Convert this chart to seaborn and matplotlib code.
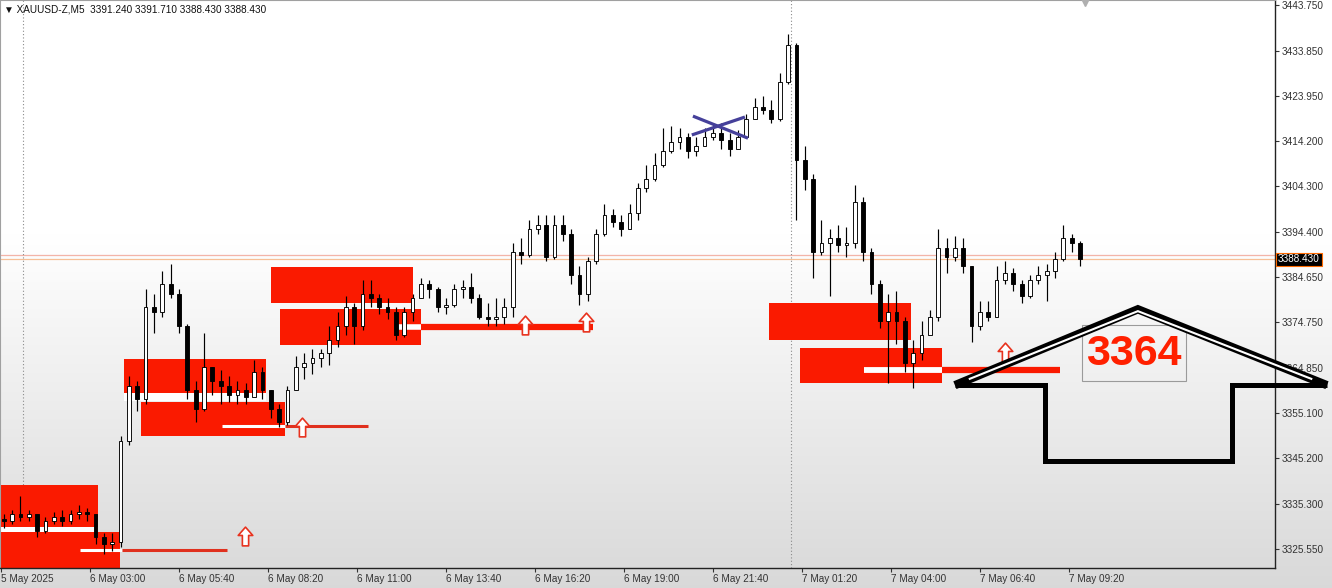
import numpy as np
import matplotlib
matplotlib.use("Agg")
import matplotlib.pyplot as plt
import seaborn as sns
from matplotlib.patches import Rectangle
from matplotlib.path import Path

# ---------------- data (15-minute aggregation of the M5 chart) ----------------
first_open = 3332.0
closes = [3331.5, 3333, 3332.5, 3333, 3329.5, 3331.5, 3332.5, 3331.5, 3333, 3333.5,
          3333, 3328, 3326.5, 3327, 3349, 3361, 3358, 3378, 3377, 3383,
          3381, 3374, 3360, 3356, 3365, 3362, 3361, 3359, 3360, 3358.5,
          3364, 3360, 3356, 3353, 3360, 3365, 3366, 3367, 3368, 3371,
          3374, 3378, 3374, 3381, 3380, 3378, 3377, 3372, 3377, 3380,
          3383, 3382, 3378, 3378.5, 3382, 3382.5, 3380, 3376, 3375.5, 3376,
          3378, 3390, 3389.5, 3395, 3396, 3389, 3396, 3394, 3385, 3381,
          3388, 3394, 3398, 3396.5, 3395, 3398.5, 3404, 3406, 3409, 3412,
          3414, 3415, 3412, 3413, 3415, 3416, 3414.5, 3412.5, 3415, 3419,
          3421.5, 3421, 3419, 3427, 3435, 3410, 3406, 3390, 3392, 3393,
          3391.5, 3392, 3401, 3390, 3383, 3375, 3377, 3375, 3366, 3368,
          3372, 3376, 3391, 3389, 3391, 3387, 3374, 3377, 3376, 3384,
          3385.5, 3383, 3380.5, 3384, 3385, 3386, 3388.5, 3393, 3392, 3388.43]
highs = [3333, 3334, 3337, 3334, 3333, 3332.5, 3333.5, 3334, 3334, 3335,
         3334.5, 3333, 3329, 3329, 3350, 3363, 3362, 3382, 3381, 3386,
         3387.5, 3382, 3374.5, 3362, 3372.5, 3365, 3364.5, 3363, 3362, 3361.5,
         3366.5, 3365, 3360, 3357, 3361, 3367.5, 3368, 3369, 3369, 3374,
         3377, 3380.5, 3379, 3384, 3384, 3381, 3380, 3378, 3378, 3381,
         3384.5, 3384, 3382.5, 3380, 3383, 3384, 3385.5, 3381, 3379, 3380,
         3380, 3392, 3393, 3397, 3398, 3398, 3398, 3398, 3395, 3387,
         3389, 3395, 3400.5, 3399.5, 3398, 3400.5, 3405, 3409, 3411.5, 3417,
         3417.5, 3417, 3416, 3415, 3417, 3418, 3418, 3416, 3416.5, 3420,
         3423.5, 3424, 3423, 3429, 3437.5, 3435.5, 3413, 3407, 3397, 3395,
         3396, 3395.5, 3404.6, 3402, 3391, 3384, 3381, 3381.5, 3376, 3371,
         3375, 3377.5, 3395, 3393, 3393.5, 3393, 3387, 3379.5, 3379.5, 3387,
         3388, 3386.5, 3384, 3385, 3387, 3387.5, 3390, 3396, 3394, 3392.5]
lows = [3330, 3331, 3331.5, 3331.5, 3328, 3329, 3331, 3330.5, 3331, 3332,
        3331.5, 3326.5, 3324.5, 3325, 3326, 3348, 3355.5, 3357, 3372.5, 3376,
        3380, 3372.5, 3358, 3353, 3355.5, 3359, 3357, 3357.5, 3357, 3357,
        3359, 3358, 3354, 3352, 3352.5, 3360, 3362.5, 3363.5, 3365, 3365.5,
        3369.5, 3372, 3370, 3373, 3378, 3376.5, 3375.5, 3371, 3371.5, 3375,
        3380, 3380, 3377, 3376.5, 3378, 3380, 3379, 3375.5, 3374, 3374,
        3374.5, 3376, 3387.5, 3389, 3394, 3388, 3388.5, 3392.5, 3383, 3378.5,
        3379.5, 3387.5, 3393.5, 3395.5, 3393.5, 3395, 3397, 3403, 3405.5, 3408.5,
        3411.5, 3412.5, 3410.5, 3411, 3413, 3414.5, 3412.5, 3411, 3412.5, 3415,
        3419, 3420, 3418, 3418.5, 3426.5, 3397, 3403.5, 3384.5, 3389.5, 3380.5,
        3390, 3389, 3391, 3388, 3381, 3373.5, 3361.5, 3370, 3364, 3360.5,
        3366.5, 3372.5, 3375, 3385.5, 3388, 3385.5, 3370.5, 3373, 3375, 3376,
        3383, 3381.5, 3379, 3380, 3383, 3379.5, 3384.5, 3388, 3390, 3387]

tick_labels = ["5 May 2025", "6 May 03:00", "6 May 05:40", "6 May 08:20", "6 May 11:00",
               "6 May 13:40", "6 May 16:20", "6 May 19:00", "6 May 21:40", "7 May 01:20",
               "7 May 04:00", "7 May 06:40", "7 May 09:20"]
price_ticks = [3325.55, 3335.30, 3345.20, 3355.10, 3364.85, 3374.75, 3384.65,
               3394.40, 3404.30, 3414.20, 3423.95, 3433.85, 3443.75]
last_ohlc = [3391.240, 3391.710, 3388.430, 3388.430]
bid_price = 3388.43
ask_price = 3389.3
target_label = "3364"

# ---------------- style ----------------
sns.set_style("white")
plt.rcParams["font.family"] = ["Liberation Sans", "DejaVu Sans"]
FS = 7.2
RED = "#fa1a00"

W, H = 1332, 588
fig = plt.figure(figsize=(W / 100, H / 100), dpi=100)

# background gradient (white to light grey towards the bottom)
bg = fig.add_axes([0, 0, 1, 1])
bg.set_zorder(-5)
t = np.linspace(0, 1, 300)
v = np.where(t < 0.4, 1.0, 1.0 - (t - 0.4) / 0.6 * 0.15)
img = np.repeat(v[:, None], 2, axis=1)
bg.imshow(np.dstack([img, img, img]), aspect="auto", extent=[0, 1, 0, 1], origin="upper")
bg.axis("off")

ax = fig.add_axes([0, 20 / H, 1275 / W, 568 / H])
ax.set_facecolor("none")

n = len(closes)
xs = np.arange(n) * 3 - 31            # M5 bar index of each 15-minute bar
opens = np.array([first_open] + closes[:-1])
c = np.array(closes)
hi = np.array(highs)
lo = np.array(lows)

ax.set_xlim(-32.36, 426.1)
ax.set_ylim(3321.36, 3444.84)

# ---------------- zones ----------------
zones = [(-33, 2.9, 3330.3, 3339.4), (-33, 10.8, 3317.0, 3329.2),
         (12.2, 63.3, 3359.4, 3366.8), (18.3, 70.1, 3350.1, 3357.5),
         (65.1, 116.1, 3379.0, 3386.8), (68.3, 119.0, 3369.8, 3377.6),
         (244.1, 295.2, 3370.9, 3379.0), (255.3, 306.3, 3361.6, 3369.2)]
for x0, x1, y0, y1 in zones:
    ax.add_patch(Rectangle((x0, y0), x1 - x0, y1 - y0, fc=RED, ec="none", zorder=2))
ax.add_patch(Rectangle((-33, 3329.2), 35.9, 1.1, fc="white", ec="none", zorder=2.5))
ax.add_patch(Rectangle((12.2, 3357.6), 51.1, 1.7, fc="white", ec="none", zorder=2.5))

# level lines
ax.plot([-3.6, 11.5], [3325.3, 3325.3], color="white", lw=2.2, zorder=3, solid_capstyle="butt")
ax.plot([11.5, 49.3], [3325.3, 3325.3], color="#e0301e", lw=2.2, zorder=3, solid_capstyle="butt")
ax.plot([47.5, 70.1], [3352.2, 3352.2], color="white", lw=2.2, zorder=3, solid_capstyle="butt")
ax.plot([70.1, 100.0], [3352.2, 3352.2], color="#e0301e", lw=2.2, zorder=3, solid_capstyle="butt")
ax.plot([110.4, 119.0], [3373.7, 3373.7], color="white", lw=4, zorder=3, solid_capstyle="butt")
ax.plot([119.0, 180.9], [3373.7, 3373.7], color=RED, lw=4.5, zorder=3, solid_capstyle="butt")
ax.plot([278.3, 306.3], [3364.4, 3364.4], color="white", lw=4.2, zorder=3, solid_capstyle="butt")
ax.plot([306.3, 348.8], [3364.4, 3364.4], color=RED, lw=4.5, zorder=3, solid_capstyle="butt")

# bid / ask lines
ax.axhline(ask_price, color="#f3b4a8", lw=0.9, zorder=1.5)
ax.axhline(bid_price, color="#f6bf95", lw=0.9, zorder=1.5)

# period separators
for xv in (-24, 252):
    ax.axvline(xv, color="#8a8a8a", lw=0.8, ls=(0, (1, 2)), zorder=1.5)

# ---------------- candles ----------------
up = c >= opens
ax.vlines(xs, lo, hi, color="black", lw=0.85, zorder=5)
body_lo = np.minimum(opens, c)
body_h = np.maximum(np.abs(c - opens), 0.25)
ax.bar(xs[up], body_h[up], bottom=body_lo[up], width=1.35, color="white",
       edgecolor="black", linewidth=0.65, zorder=6)
ax.bar(xs[~up], body_h[~up], bottom=body_lo[~up], width=1.35, color="black",
       edgecolor="black", linewidth=0.65, zorder=6)

# ---------------- arrows ----------------
arrow = Path([(0, 0.9), (-0.7, 0.1), (-0.3, 0.1), (-0.3, -0.9), (0.3, -0.9),
              (0.3, 0.1), (0.7, 0.1), (0, 0.9)],
             [Path.MOVETO] + [Path.LINETO] * 6 + [Path.CLOSEPOLY])
for ax_x, ax_y in [(55.7, 3328.3), (76.2, 3352.0), (156.4, 3374.2),
                   (178.3, 3374.8), (329.0, 3368.3)]:
    ax.plot([ax_x], [ax_y], marker=arrow, ms=13.5, mfc="white", mec="#e8321e",
            mew=1.2, zorder=7, ls="none")

# blue cross
ax.plot([216.4, 235.5], [3415.5, 3419.4], color="#45409a", lw=2.3, zorder=7,
        solid_capstyle="butt")
ax.plot([216.8, 236.6], [3419.6, 3414.8], color="#45409a", lw=2.3, zorder=7,
        solid_capstyle="butt")

# big house-shaped arrow
ax.plot([311.0, 376.8, 444.8], [3361.1, 3377.6, 3361.1], color="black", lw=6.0,
        zorder=8, clip_on=False, solid_joinstyle="miter", solid_capstyle="butt")
ax.plot([316.0, 376.8, 439.5], [3362.4, 3377.2, 3362.4], color="white", lw=1.5,
        zorder=9, clip_on=False, solid_joinstyle="miter", solid_capstyle="butt")
ax.plot([311.0, 343.4, 343.4, 410.6, 410.6, 444.8],
        [3361.1, 3361.1, 3344.7, 3344.7, 3361.1, 3361.1],
        color="black", lw=3.6, zorder=8, clip_on=False, solid_joinstyle="miter",
        solid_capstyle="butt")

# 3364 label box
ax.add_patch(Rectangle((356.7, 3362.0), 37.4, 12.2, fc="none", ec="#9a9a9a",
                       lw=0.8, zorder=7.5))
ax.text(375.4, 3367.8, target_label, color="#ff2000", fontsize=31,
        fontweight="bold", ha="center", va="center", zorder=10)

# chart shift marker
ax.plot([357.8], [3444.4], marker="v", ms=6, color="#b0b0b0", clip_on=False, zorder=10)

# ---------------- axes ----------------
ax.yaxis.tick_right()
ax.set_yticks(price_ticks)
ax.set_yticklabels([f"{p:.3f}" for p in price_ticks])
ax.set_xticks(np.arange(len(tick_labels)) * 32 - 32)
ax.set_xticklabels(tick_labels, ha="left")
ax.tick_params(axis="y", direction="out", length=3, width=0.8, pad=2,
               labelsize=FS, colors="#333333", right=True, left=False)
ax.tick_params(axis="x", direction="out", length=3, width=0.8, pad=1.5,
               labelsize=FS, colors="#333333", bottom=True)
for s in ("right", "bottom"):
    ax.spines[s].set_color("#222222")
    ax.spines[s].set_linewidth(1.0)
for s in ("top", "left"):
    ax.spines[s].set_color("#a0a0a0")
    ax.spines[s].set_linewidth(0.8)
ax.grid(False)

# current price tag
ax.annotate(f"{bid_price:.3f}", xy=(1, bid_price), xycoords=("axes fraction", "data"),
            xytext=(2.2, 0), textcoords="offset points", ha="left", va="center",
            color="white", fontsize=FS, annotation_clip=False,
            bbox=dict(boxstyle="square,pad=0.18", fc="black", ec="#ff6a00", lw=0.8))

# header
fig.text(4 / W, 1 - 9 / H,
         "▼ XAUUSD-Z,M5  " + " ".join(f"{v:.3f}" for v in last_ohlc),
         fontsize=FS, color="#111111", ha="left", va="center")

fig.savefig("out.png", dpi=100)
